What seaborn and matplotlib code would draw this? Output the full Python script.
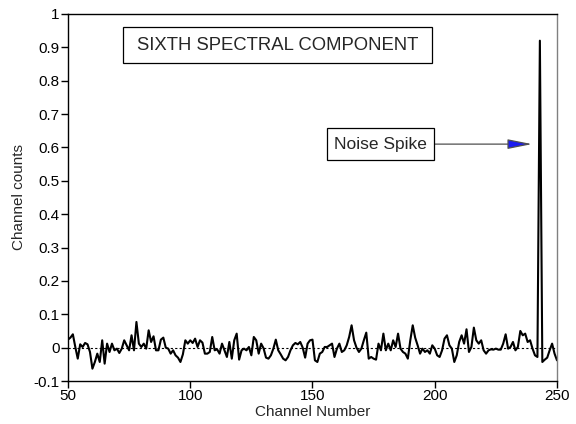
import matplotlib
matplotlib.use("Agg")
import matplotlib.pyplot as plt
from matplotlib.patches import Rectangle
import seaborn as sns
import pandas as pd

sns.set_style("ticks")
plt.rcParams['font.family'] = ['Liberation Sans', 'DejaVu Sans']

channels = list(range(50, 251))
counts = [
    # 50-59
    0.024, 0.030, 0.040, 0.002, -0.033, 0.010, 0.002, 0.014, 0.010, -0.013,
    # 60-69
    -0.063, -0.043, -0.018, -0.043, 0.022, -0.048, 0.012, -0.013, 0.012, -0.008,
    # 70-79
    -0.003, -0.016, -0.003, 0.022, 0.007, -0.008, 0.037, -0.008, 0.077, 0.012,
    # 80-89
    0.002, 0.012, -0.003, 0.052, 0.017, 0.034, -0.008, -0.008, 0.024, 0.030,
    # 90-99
    0.000, -0.003, -0.018, -0.008, -0.023, -0.030, -0.043, -0.020, 0.022, 0.012,
    # 100-109
    0.022, 0.014, 0.027, 0.002, 0.022, 0.015, -0.018, -0.018, -0.013, 0.032,
    # 110-119
    -0.008, -0.005, -0.018, 0.012, -0.008, -0.028, 0.017, -0.033, 0.022, 0.042,
    # 120-129
    -0.036, -0.008, -0.003, -0.008, 0.002, -0.023, 0.032, 0.022, -0.018, 0.012,
    # 130-139
    -0.002, -0.030, -0.033, -0.023, -0.003, 0.024, -0.008, -0.020, -0.033, -0.038,
    # 140-149
    -0.028, -0.008, 0.007, 0.014, 0.010, 0.017, 0.000, -0.030, 0.012, 0.022,
    # 150-159
    0.024, -0.038, -0.043, -0.018, -0.013, 0.002, 0.002, 0.007, 0.012, -0.028,
    # 160-169
    -0.003, 0.012, -0.013, -0.008, 0.007, 0.032, 0.067, 0.022, 0.000, -0.013,
    # 170-179
    -0.003, 0.022, 0.045, -0.033, -0.028, -0.033, -0.036, 0.012, -0.008, 0.042,
    # 180-189
    -0.008, 0.012, -0.008, 0.022, 0.002, 0.042, -0.003, -0.013, -0.018, -0.033,
    # 190-199
    0.022, 0.067, 0.030, 0.007, -0.018, -0.003, -0.013, -0.008, -0.018, 0.007,
    # 200-209
    -0.003, -0.023, -0.028, -0.008, 0.027, 0.037, 0.007, -0.003, -0.043, -0.023,
    # 210-219
    0.017, 0.037, 0.012, 0.055, -0.013, 0.002, 0.060, 0.022, 0.012, 0.022,
    # 220-229
    -0.008, -0.018, -0.008, -0.005, -0.006, -0.003, -0.006, -0.006, 0.012, 0.040,
    # 230-239
    -0.003, 0.002, 0.017, -0.008, 0.002, 0.050, 0.037, 0.042, 0.017, 0.022,
    # 240-250
    -0.003, -0.023, -0.028, 0.920, -0.043, -0.036, -0.030, -0.008, 0.012, -0.018,
    -0.038,
]

x_ticks = [50, 100, 150, 200, 250]
y_ticks = [-0.1, 0, 0.1, 0.2, 0.3, 0.4, 0.5, 0.6, 0.7, 0.8, 0.9, 1]
y_tick_labels = ["-0.1", "0", "0.1", "0.2", "0.3", "0.4", "0.5", "0.6", "0.7", "0.8", "0.9", "1"]

title_text = "SIXTH SPECTRAL COMPONENT"
note_text = "Noise Spike"

df = pd.DataFrame({"Channel Number": channels, "Channel counts": counts})

fig = plt.figure(figsize=(5.76, 4.24), dpi=100)
ax = fig.add_axes([0.118, 0.1014, 0.849, 0.8656])

ax.axhline(0, color="black", lw=0.8, ls=(0, (2, 2)), zorder=1)
sns.lineplot(data=df, x="Channel Number", y="Channel counts", ax=ax,
             color="black", lw=1.5, zorder=2)

ax.set_xlim(50, 250)
ax.set_ylim(-0.1, 1)
ax.set_xticks(x_ticks)
ax.set_yticks(y_ticks)
ax.set_yticklabels(y_tick_labels)
ax.tick_params(direction="out", length=5, width=1, labelsize=11, colors="black", pad=1)
ax.set_xlabel("Channel Number", fontsize=11, labelpad=1)
ax.set_ylabel("Channel counts", fontsize=11)
ax.yaxis.set_label_coords(-0.085, 0.5)

for side in ["left", "bottom", "top"]:
    ax.spines[side].set_color("black")
    ax.spines[side].set_linewidth(1)
ax.spines["right"].set_color("#808080")
ax.spines["right"].set_linewidth(1)

# title box
ax.add_patch(Rectangle((72.4, 0.852), 126.5, 0.110, fc="white", ec="black", lw=0.9, zorder=5))
ax.text(135.6, 0.907, title_text, fontsize=13.3, ha="center", va="center", zorder=6)

# noise spike annotation
ax.annotate("", xy=(239.8, 0.61), xytext=(199.7, 0.61),
            arrowprops=dict(arrowstyle="-|>,head_length=1.5,head_width=0.3",
                            lw=0.9, fc="#1c1cf0", ec="#505050",
                            shrinkA=0, shrinkB=0), zorder=4)
ax.add_patch(Rectangle((155.9, 0.562), 43.8, 0.096, fc="white", ec="black", lw=0.9, zorder=5))
ax.text(177.8, 0.61, note_text, fontsize=12.5, ha="center", va="center", zorder=6)

fig.savefig("out.png", dpi=100)
